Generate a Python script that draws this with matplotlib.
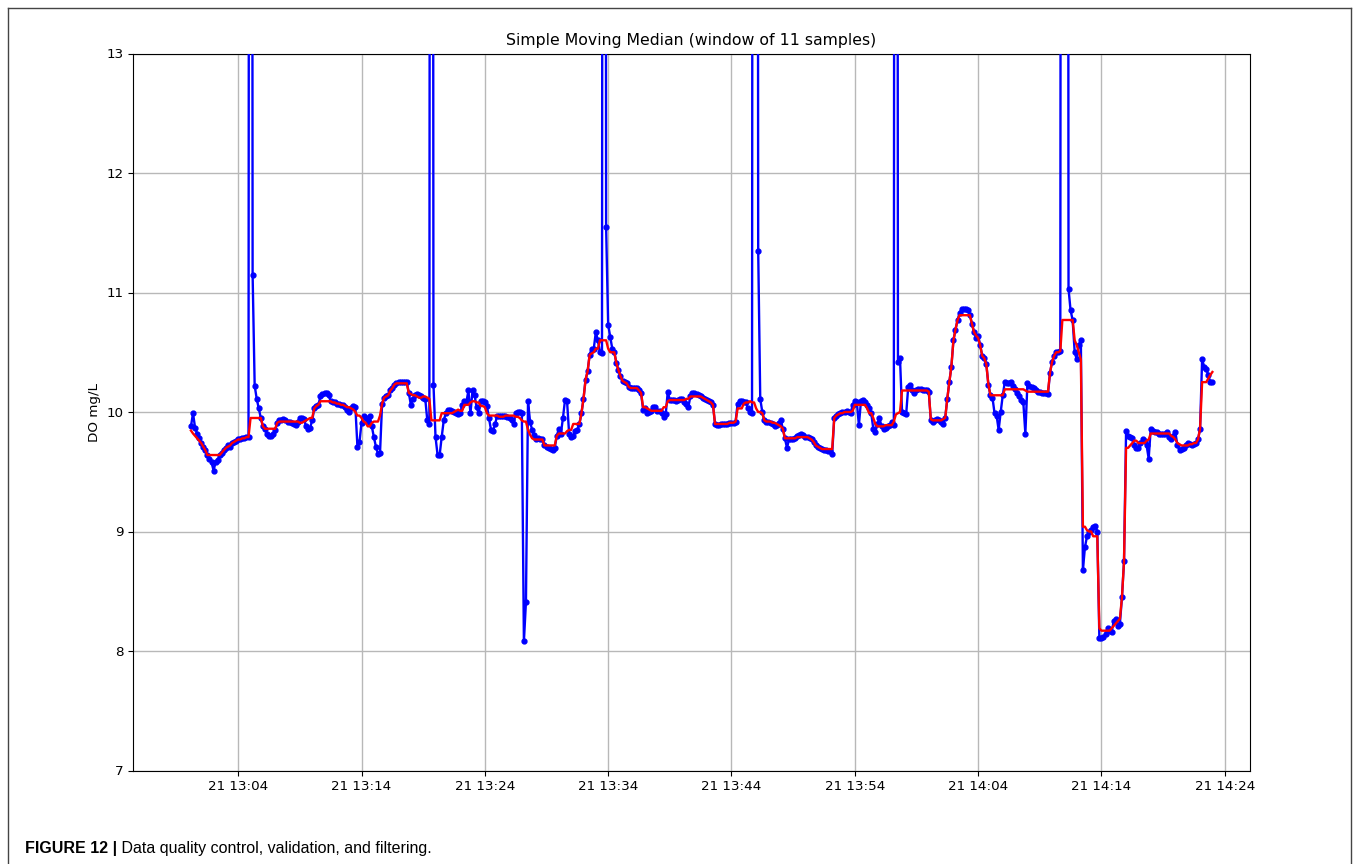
"""Dissolved-oxygen series with a simple moving median (window of 11 samples)."""
import matplotlib

matplotlib.use("Agg")
import matplotlib.dates as mdates
import matplotlib.pyplot as plt
import pandas as pd
from matplotlib.lines import Line2D

# --------------------------------------------------------------------------------------
# Data (DO mg/L, one reading every 10 s starting 13:00:10; one row per minute)
# --------------------------------------------------------------------------------------
START = "2019-01-21 13:00:10"
STEP = "10s"
WINDOW = 11
HI = 35.0  # sensor glitches far above the plotted range

DO_VALUES = [
    9.88, 9.99, 9.87, 9.82, 9.78, 9.74,
    9.71, 9.68, 9.64, 9.61, 9.58, 9.51,
    9.58, 9.60, 9.64, 9.66, 9.68, 9.70,
    9.72, 9.71, 9.74, 9.75, 9.76, 9.77,
    9.77, 9.78, 9.78, 9.79, 9.79, HI,
    11.15, 10.22, 10.11, 10.03, 9.95, 9.88,
    9.86, 9.82, 9.80, 9.80, 9.82, 9.85,
    9.91, 9.93, 9.93, 9.94, 9.93, 9.92,
    9.92, 9.91, 9.90, 9.89, 9.92, 9.95,
    9.95, 9.94, 9.88, 9.86, 9.87, 9.93,
    10.03, 10.05, 10.06, 10.13, 10.15, 10.16,
    10.16, 10.14, 10.09, 10.08, 10.08, 10.07,
    10.07, 10.06, 10.06, 10.04, 10.02, 10.00,
    10.03, 10.05, 10.04, 9.71, 9.75, 9.91,
    9.97, 9.95, 9.92, 9.97, 9.88, 9.79,
    9.71, 9.65, 9.66, 10.07, 10.12, 10.13,
    10.14, 10.18, 10.20, 10.23, 10.24, 10.25,
    10.25, 10.25, 10.25, 10.25, 10.16, 10.06,
    10.11, 10.14, 10.15, 10.14, 10.13, 10.12,
    10.11, 9.93, 9.90, HI, 10.23, 9.79,
    9.64, 9.64, 9.79, 9.93, 9.99, 10.02,
    10.02, 10.01, 10.00, 9.99, 9.98, 9.99,
    10.06, 10.09, 10.08, 10.18, 9.99, 10.18,
    10.14, 10.04, 9.99, 10.09, 10.09, 10.08,
    10.05, 9.95, 9.85, 9.84, 9.90, 9.97,
    9.97, 9.97, 9.97, 9.97, 9.96, 9.95,
    9.93, 9.90, 9.99, 10.00, 10.00, 9.99,
    8.08, 8.41, 10.09, 9.92, 9.85, 9.81,
    9.77, 9.78, 9.77, 9.77, 9.72, 9.71,
    9.70, 9.69, 9.68, 9.70, 9.80, 9.86,
    9.82, 9.95, 10.10, 10.09, 9.82, 9.79,
    9.80, 9.84, 9.85, 9.90, 9.99, 10.11,
    10.27, 10.34, 10.48, 10.53, 10.53, 10.67,
    10.60, 10.50, 10.49, HI, 11.55, 10.73,
    10.63, 10.53, 10.50, 10.41, 10.35, 10.30,
    10.26, 10.25, 10.24, 10.21, 10.20, 10.20,
    10.20, 10.20, 10.18, 10.16, 10.02, 10.03,
    9.99, 10.00, 10.01, 10.04, 10.04, 10.01,
    10.01, 9.99, 9.96, 9.98, 10.17, 10.10,
    10.10, 10.10, 10.09, 10.10, 10.11, 10.11,
    10.08, 10.07, 10.04, 10.13, 10.16, 10.16,
    10.15, 10.14, 10.13, 10.12, 10.11, 10.10,
    10.09, 10.08, 10.06, 9.90, 9.89, 9.89,
    9.90, 9.90, 9.90, 9.90, 9.91, 9.91,
    9.91, 9.92, 10.07, 10.09, 10.09, 10.08,
    10.08, 10.03, 10.00, 9.99, HI, HI,
    11.35, 10.11, 10.00, 9.93, 9.92, 9.92,
    9.91, 9.90, 9.88, 9.89, 9.91, 9.93,
    9.86, 9.78, 9.70, 9.77, 9.77, 9.77,
    9.78, 9.80, 9.81, 9.82, 9.81, 9.79,
    9.79, 9.78, 9.77, 9.75, 9.72, 9.71,
    9.70, 9.69, 9.68, 9.68, 9.67, 9.67,
    9.65, 9.95, 9.97, 9.98, 9.99, 10.00,
    10.00, 10.01, 10.00, 9.99, 10.06, 10.09,
    10.08, 9.89, 10.09, 10.10, 10.08, 10.06,
    10.03, 9.99, 9.86, 9.83, 9.90, 9.95,
    9.88, 9.86, 9.87, 9.88, 9.89, 9.92,
    9.89, HI, 10.42, 10.45, 10.00, 9.99,
    9.98, 10.21, 10.23, 10.18, 10.16, 10.18,
    10.19, 10.19, 10.18, 10.18, 10.18, 10.17,
    9.93, 9.92, 9.93, 9.94, 9.93, 9.92,
    9.90, 9.95, 10.11, 10.25, 10.38, 10.60,
    10.69, 10.77, 10.83, 10.86, 10.86, 10.86,
    10.85, 10.81, 10.74, 10.67, 10.62, 10.64,
    10.56, 10.47, 10.45, 10.40, 10.23, 10.14,
    10.12, 9.99, 9.97, 9.85, 10.00, 10.14,
    10.25, 10.24, 10.24, 10.25, 10.22, 10.19,
    10.16, 10.13, 10.10, 10.08, 9.82, 10.24,
    10.22, 10.21, 10.20, 10.18, 10.17, 10.17,
    10.16, 10.16, 10.16, 10.15, 10.33, 10.42,
    10.47, 10.50, 10.50, 10.51, HI, HI,
    HI, 11.03, 10.85, 10.77, 10.50, 10.44,
    10.56, 10.60, 8.68, 8.87, 8.96, 9.00,
    9.01, 9.04, 9.05, 9.00, 8.11, 8.11,
    8.12, 8.14, 8.19, 8.17, 8.16, 8.25,
    8.27, 8.21, 8.23, 8.45, 8.75, 9.84,
    9.80, 9.79, 9.78, 9.72, 9.70, 9.70,
    9.74, 9.77, 9.76, 9.72, 9.61, 9.86,
    9.84, 9.83, 9.83, 9.82, 9.82, 9.82,
    9.82, 9.83, 9.79, 9.77, 9.80, 9.83,
    9.72, 9.68, 9.69, 9.70, 9.72, 9.74,
    9.73, 9.72, 9.73, 9.74, 9.77, 9.86,
    10.44, 10.38, 10.36, 10.31, 10.25, 10.25,
]

Y_TICKS = [7, 8, 9, 10, 11, 12, 13]
X_LIMITS = ("2019-01-21 12:55:28", "2019-01-21 14:26:03")

TITLE = "Simple Moving Median (window of 11 samples)"
Y_LABEL = "DO mg/L"
CAPTION_BOLD = "FIGURE 12 |"
CAPTION_TEXT = " Data quality control, validation, and filtering."


def main() -> None:
    times = pd.date_range(START, periods=len(DO_VALUES), freq=STEP)
    series = pd.Series(DO_VALUES, index=times)
    median = series.rolling(WINDOW, center=True, min_periods=1).median()

    fig = plt.figure(figsize=(13.58, 8.64), dpi=100)
    ax = fig.add_axes([133 / 1358, 1 - 770.5 / 864, (1250 - 133) / 1358, (770.5 - 53.5) / 864])

    ax.plot(series.index, series.values, ".-", color="blue", lw=1.7, ms=7, zorder=3)
    ax.plot(median.index, median.values, "-", color="red", lw=1.7, zorder=4)

    ax.set_ylim(7, 13)
    ax.set_yticks(Y_TICKS)
    ax.set_xlim(pd.Timestamp(X_LIMITS[0]), pd.Timestamp(X_LIMITS[1]))
    ax.xaxis.set_major_locator(mdates.MinuteLocator(byminute=range(4, 60, 10)))
    ax.xaxis.set_major_formatter(mdates.DateFormatter("%d %H:%M"))
    ax.grid(True, color="#b8b8b8", lw=1.0)
    ax.tick_params(labelsize=9.7)
    ax.set_ylabel(Y_LABEL, fontsize=9.7)
    ax.set_title(TITLE, fontsize=11.3)

    # thin frame around the whole figure panel (journal layout)
    for xs, ys in (([8, 8], [0, 856]), ([8, 1351], [856, 856]), ([1351, 1351], [856, 0])):
        fig.add_artist(
            Line2D([x / 1358 for x in xs], [y / 864 for y in ys], color="#444444", lw=1.0)
        )

    cap_y = 1 - 848 / 864
    bold = fig.text(25 / 1358, cap_y, CAPTION_BOLD, fontsize=11.5, fontweight="bold",
                    family="Liberation Sans", va="center")
    fig.canvas.draw()
    bb = bold.get_window_extent()
    fig.text(bb.x1 / fig.bbox.width, cap_y, CAPTION_TEXT, fontsize=11.5,
             family="Liberation Sans", va="center")

    fig.savefig("out.png", dpi=100)
    plt.close(fig)


if __name__ == "__main__":
    main()
